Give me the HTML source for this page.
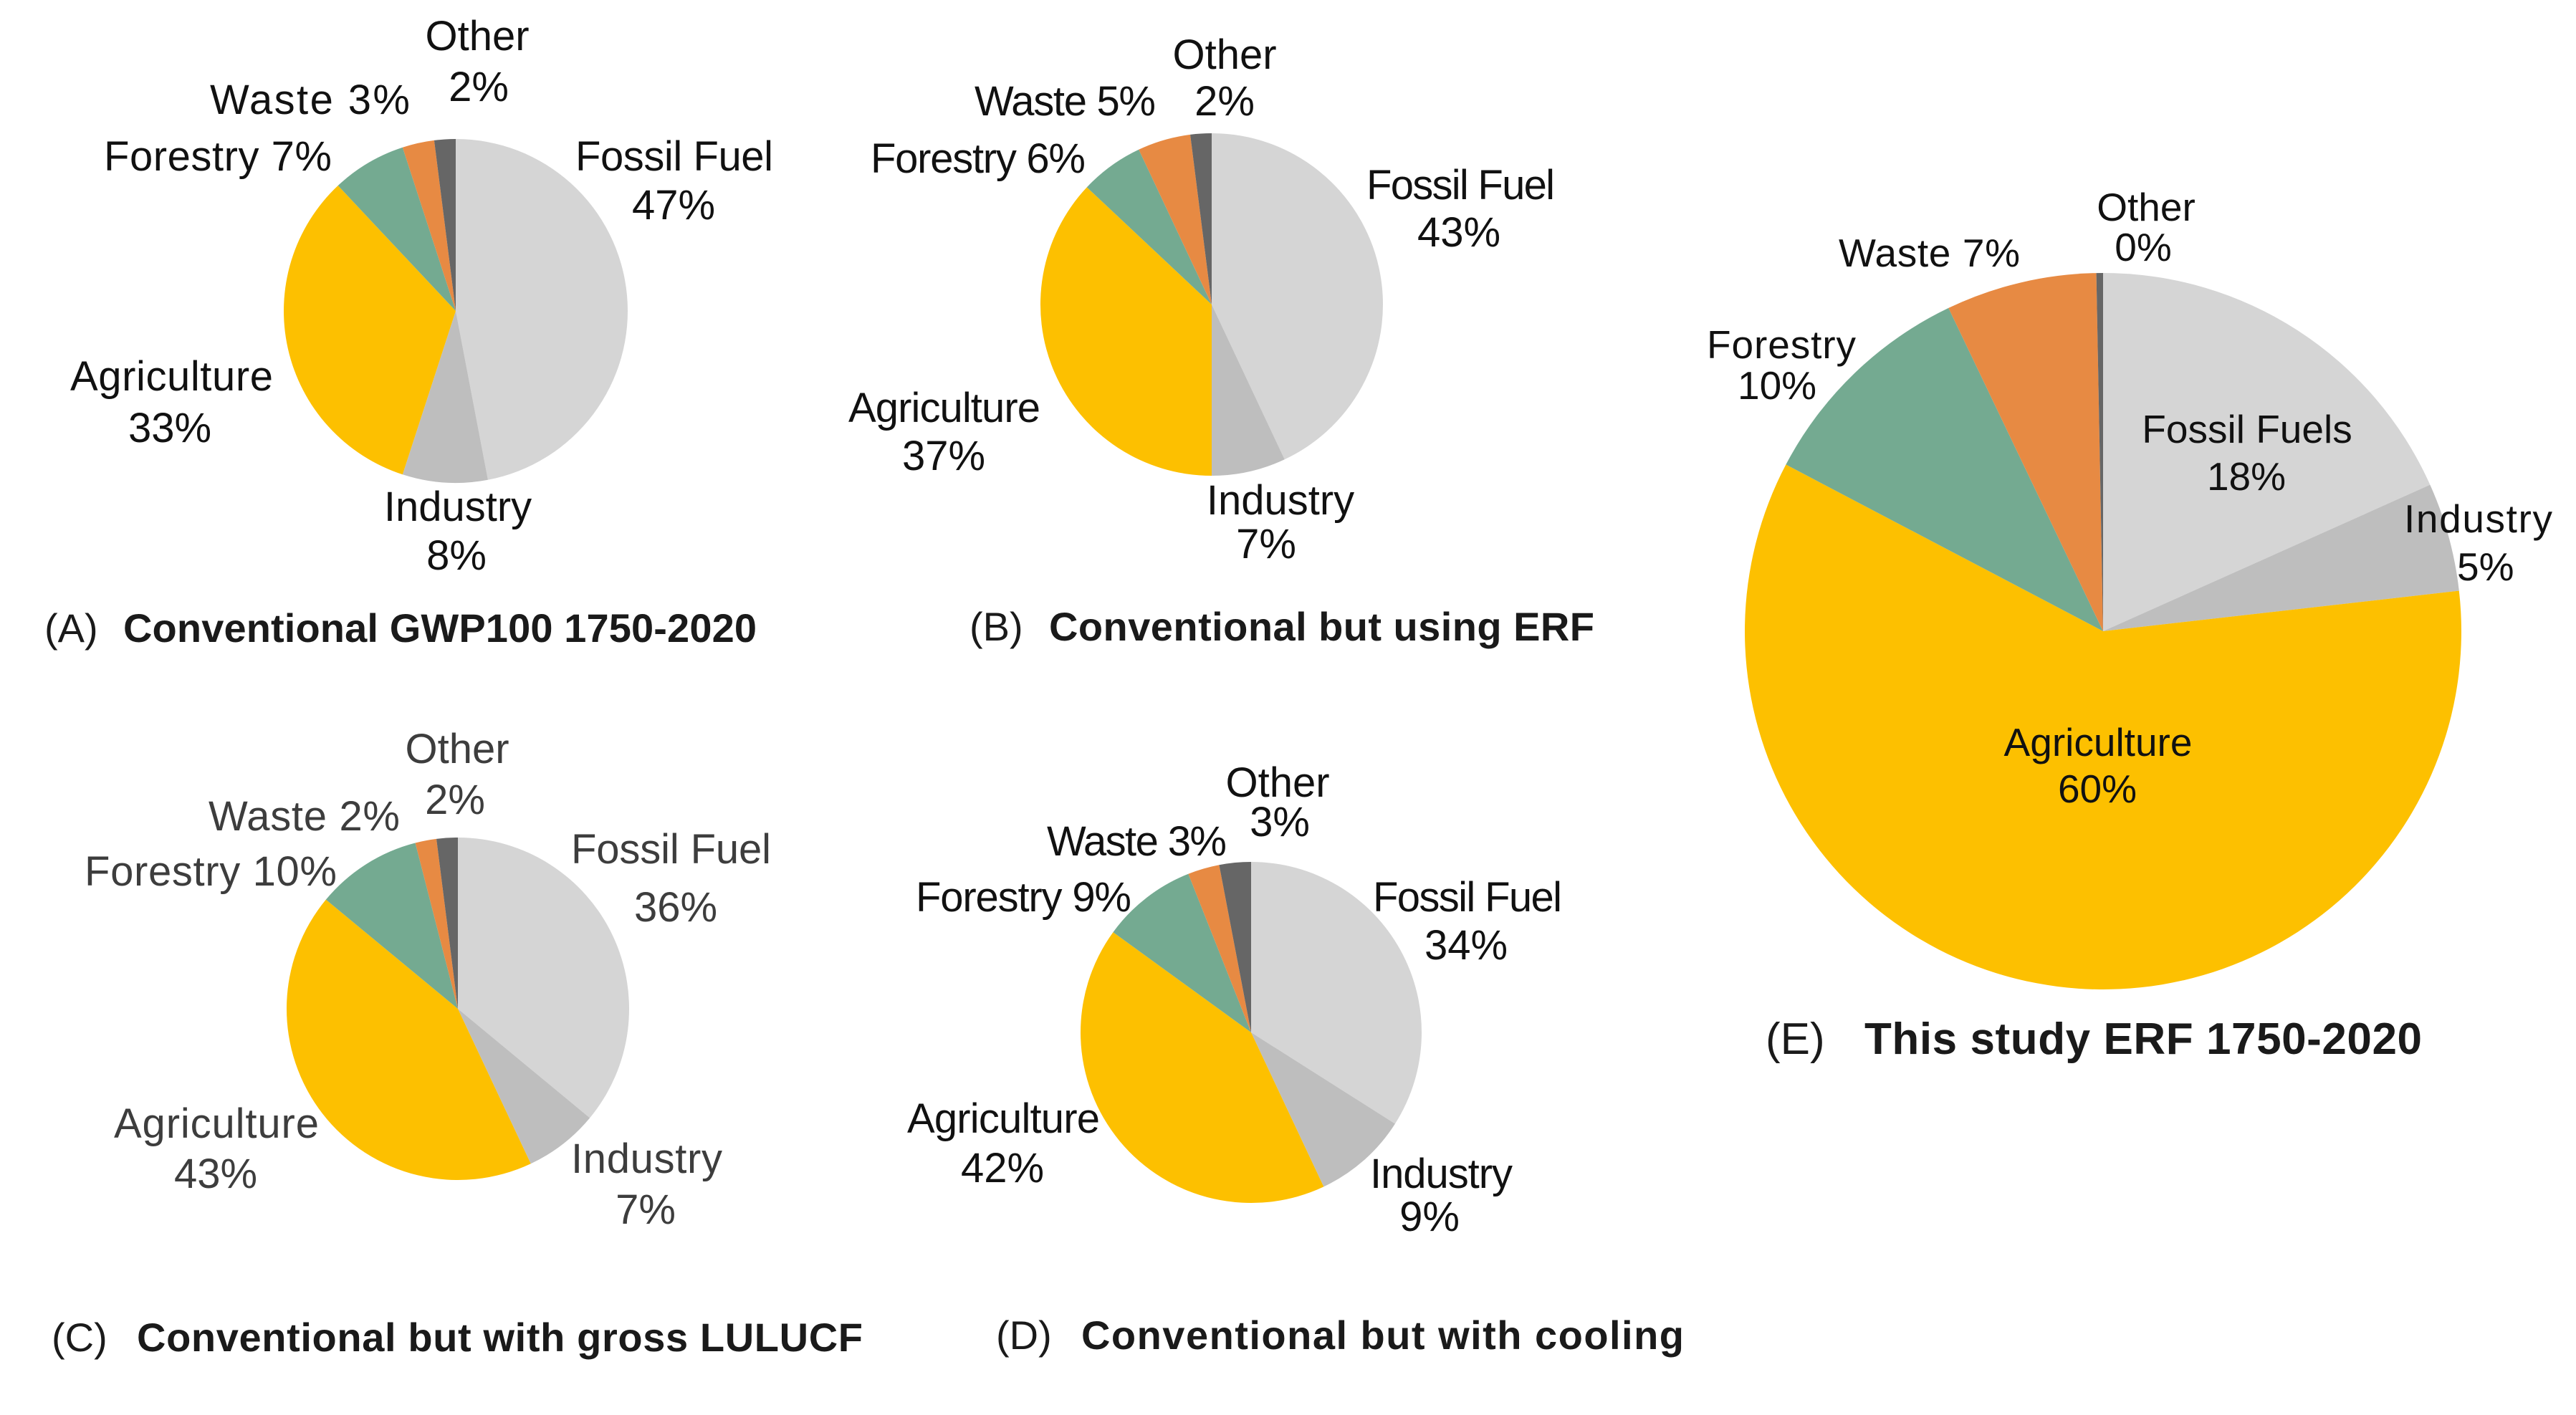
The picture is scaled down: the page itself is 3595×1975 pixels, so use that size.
<!DOCTYPE html>
<html><head><meta charset="utf-8"><style>
html,body{margin:0;padding:0;background:#fff;}
svg{display:block;}
text{font-family:"Liberation Sans",sans-serif;}
.lbl{font-size:58px;fill:#111;}
.lblC{font-size:58px;fill:#3d3d3d;}
.lblE{font-size:55px;fill:#111;}
.cap{font-size:56px;fill:#1a1a1a;}
.capb{font-weight:bold;}
</style></head><body>
<svg id="fig" width="3595" height="1975" viewBox="0 0 3595 1975" xmlns="http://www.w3.org/2000/svg">
<g id="pies"></g>

<!-- Pie A labels -->
<g class="lbl">
<text x="666" y="70" text-anchor="middle">Other</text>
<text x="668" y="141" text-anchor="middle">2%</text>
<text x="293" y="159" textLength="279">Waste  3%</text>
<text x="145" y="238" textLength="318">Forestry 7%</text>
<text x="803" y="238" textLength="276">Fossil Fuel</text>
<text x="940" y="306" text-anchor="middle">47%</text>
<text x="98" y="545" textLength="283">Agriculture</text>
<text x="237" y="617" text-anchor="middle">33%</text>
<text x="639" y="727" text-anchor="middle">Industry</text>
<text x="637" y="795" text-anchor="middle">8%</text>
</g>
<text class="cap" y="896"><tspan x="62">(A)</tspan><tspan x="172" class="capb" textLength="884">Conventional GWP100 1750-2020</tspan></text>

<!-- Pie B labels -->
<g class="lbl">
<text x="1709" y="96" text-anchor="middle">Other</text>
<text x="1709" y="161" text-anchor="middle">2%</text>
<text x="1360" y="161" textLength="253">Waste 5%</text>
<text x="1215" y="241" textLength="300">Forestry 6%</text>
<text x="1907" y="278" textLength="263">Fossil Fuel</text>
<text x="2036" y="344" text-anchor="middle">43%</text>
<text x="1184" y="589" textLength="268">Agriculture</text>
<text x="1317" y="656" text-anchor="middle">37%</text>
<text x="1787" y="718" text-anchor="middle">Industry</text>
<text x="1767" y="779" text-anchor="middle">7%</text>
</g>
<text class="cap" y="894"><tspan x="1353">(B)</tspan><tspan x="1464" class="capb" textLength="761">Conventional but using ERF</tspan></text>

<!-- Pie C labels -->
<g class="lblC">
<text x="638" y="1065" text-anchor="middle">Other</text>
<text x="635" y="1136" text-anchor="middle">2%</text>
<text x="291" y="1159" textLength="267">Waste 2%</text>
<text x="118" y="1236" textLength="352">Forestry 10%</text>
<text x="797" y="1205" textLength="279">Fossil Fuel</text>
<text x="943" y="1286" text-anchor="middle">36%</text>
<text x="159" y="1588" textLength="286">Agriculture</text>
<text x="301" y="1658" text-anchor="middle">43%</text>
<text x="797" y="1637" textLength="211">Industry</text>
<text x="901" y="1708" text-anchor="middle">7%</text>
</g>
<text class="cap" y="1886"><tspan x="72">(C)</tspan><tspan x="191" class="capb" textLength="1013">Conventional but with gross LULUCF</tspan></text>

<!-- Pie D labels -->
<g class="lbl">
<text x="1783" y="1112" text-anchor="middle">Other</text>
<text x="1786" y="1167" text-anchor="middle">3%</text>
<text x="1461" y="1194" textLength="251">Waste 3%</text>
<text x="1278" y="1272" textLength="301">Forestry 9%</text>
<text x="1916" y="1272" textLength="264">Fossil Fuel</text>
<text x="2046" y="1339" text-anchor="middle">34%</text>
<text x="1266" y="1581" textLength="269">Agriculture</text>
<text x="1399" y="1650" text-anchor="middle">42%</text>
<text x="1912" y="1658" textLength="199">Industry</text>
<text x="1995" y="1718" text-anchor="middle">9%</text>
</g>
<text class="cap" y="1883"><tspan x="1390">(D)</tspan><tspan x="1509" class="capb" textLength="841">Conventional but with cooling</tspan></text>

<!-- Pie E labels -->
<g class="lblE">
<text x="2995" y="308" text-anchor="middle">Other</text>
<text x="2991" y="364" text-anchor="middle">0%</text>
<text x="2566" y="372" textLength="253">Waste 7%</text>
<text x="2382" y="500" textLength="208">Forestry</text>
<text x="2425" y="557">10%</text>
<text x="3136" y="618" text-anchor="middle">Fossil Fuels</text>
<text x="3135" y="684" text-anchor="middle">18%</text>
<text x="3355" y="743" textLength="207">Industry</text>
<text x="3429" y="810">5%</text>
<text x="2928" y="1055" text-anchor="middle">Agriculture</text>
<text x="2927" y="1120" text-anchor="middle">60%</text>
</g>
<text y="1471" style="font-size:62px;fill:#1a1a1a"><tspan x="2464">(E)</tspan><tspan x="2602" font-weight="bold" textLength="778">This study ERF 1750-2020</tspan></text>
</svg>
<script>
const sectors = ["Fossil Fuel","Industry","Agriculture","Forestry","Waste","Other"];
const colors = ["#d5d5d5","#bebebe","#fdc000","#74aa91","#e78a43","#666666"];
const valuesA = [47, 8, 33, 7, 3, 2];
const valuesB = [43, 7, 37, 6, 5, 2];
const valuesC = [36, 7, 43, 10, 2, 2];
const valuesD = [34, 9, 42, 9, 3, 3];
const valuesE = [18.3, 4.9, 59.5, 10.2, 6.8, 0.3];

const NS = "http://www.w3.org/2000/svg";
const g = document.getElementById("pies");
function angleScale(v, total){ return v / total * 2 * Math.PI; }
function pt(cx, cy, r, a){ return [cx + r*Math.sin(a), cy - r*Math.cos(a)]; }
function drawPie(id, values, cx, cy, r){
  const total = values.reduce((s,v)=>s+v,0);
  let a0 = 0;
  values.forEach((v,i)=>{
    const a1 = a0 + angleScale(v,total);
    const p0 = pt(cx,cy,r,a0), p1 = pt(cx,cy,r,a1);
    const large = (a1-a0) > Math.PI ? 1 : 0;
    const path = document.createElementNS(NS,"path");
    path.setAttribute("d", `M${cx},${cy} L${p0[0]},${p0[1]} A${r},${r} 0 ${large} 1 ${p1[0]},${p1[1]} Z`);
    path.setAttribute("fill", colors[i]);
    
    
    g.appendChild(path);
    a0 = a1;
  });
}
drawPie("a", valuesA, 636, 434, 240);
drawPie("b", valuesB, 1691, 425, 239);
drawPie("c", valuesC, 639, 1408, 239);
drawPie("d", valuesD, 1746, 1441, 238);
drawPie("e", valuesE, 2935, 881, 500);
</script>
</body></html>
